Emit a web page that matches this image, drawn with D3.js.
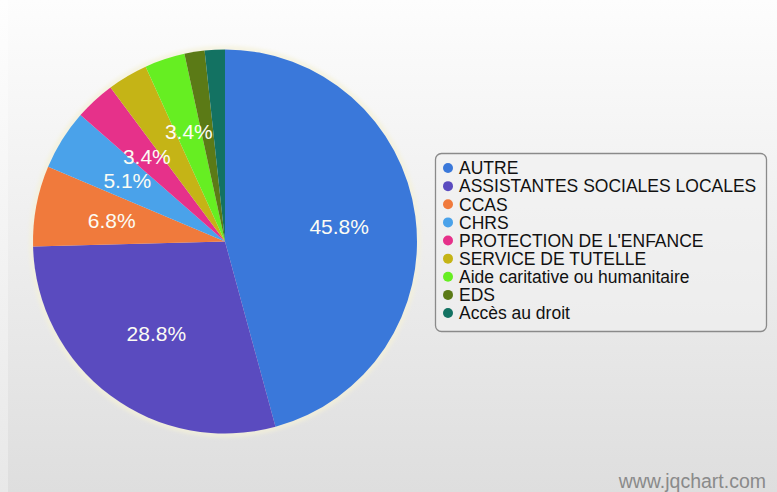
<!DOCTYPE html>
<html><head><meta charset="utf-8">
<script src="https://cdn.jsdelivr.net/npm/d3@7"></script>
<style>html,body{margin:0;padding:0;background:#fff;}svg{display:block;}</style>
</head><body>
<script>
const categories = ["AUTRE","ASSISTANTES SOCIALES LOCALES","CCAS","CHRS","PROTECTION DE L'ENFANCE","SERVICE DE TUTELLE","Aide caritative ou humanitaire","EDS","Accès au droit"];
const values = [27,17,4,3,2,2,2,1,1];
const colors = ["#3a78da","#5a4bbf","#f07a3c","#4aa2ea","#e6318a","#c5b416","#66ee22","#5b7a16","#137262"];
const watermark = "www.jqchart.com";

const W = 777, H = 492;
const svg = d3.select("body").append("svg").attr("width", W).attr("height", H);
const defs = svg.append("defs");
const g1 = defs.append("linearGradient").attr("id","bg").attr("x1",0).attr("y1",0).attr("x2",0).attr("y2",1);
g1.append("stop").attr("offset","0%").attr("stop-color","#fdfdfd");
g1.append("stop").attr("offset","100%").attr("stop-color","#dedede");
const g2 = defs.append("linearGradient").attr("id","bg2").attr("x1",0).attr("y1",0).attr("x2",0).attr("y2",1);
g2.append("stop").attr("offset","0%").attr("stop-color","#fefefe");
g2.append("stop").attr("offset","100%").attr("stop-color","#e8e8e8");
const blur = defs.append("filter").attr("id","halo").attr("x","-10%").attr("y","-10%").attr("width","120%").attr("height","120%");
blur.append("feGaussianBlur").attr("stdDeviation",2);

svg.append("rect").attr("width",W).attr("height",H).attr("fill","url(#bg2)");
svg.append("rect").attr("x",8).attr("width",W-8).attr("height",H).attr("fill","url(#bg)");

const cx = 225, cy = 241.5, R = 192;
const total = d3.sum(values);
const pie = d3.pie().sort(null).value(d => d)(values);
const arc = d3.arc().innerRadius(0).outerRadius(R);
const labelArc = d3.arc().innerRadius(R*0.6).outerRadius(R*0.6);

const gp = svg.append("g").attr("transform",`translate(${cx},${cy})`);
gp.append("circle").attr("r",R+1).attr("fill","none").attr("stroke","#f4f1d8").attr("stroke-width",4).attr("filter","url(#halo)");
gp.selectAll("path.slice").data(pie).join("path").attr("class","slice")
  .attr("d",arc).attr("fill",(d,i)=>colors[i]);

// labels with simple overlap avoidance
const fs = 21;
const placed = [];
pie.forEach((d,i)=>{
  const [x,y] = labelArc.centroid(d);
  const txt = (d.value/total*100).toFixed(1)+"%";
  const w = txt.length*fs*0.5, h = fs*0.8;
  const box = {x0:x-w/2,x1:x+w/2,y0:y-h/2,y1:y+h/2};
  const hit = placed.some(b => !(box.x1<b.x0||box.x0>b.x1||box.y1<b.y0||box.y0>b.y1));
  if (hit) return;
  placed.push(box);
  gp.append("text").attr("x",x).attr("y",y).attr("dy","0.35em")
    .attr("text-anchor","middle").attr("fill","#fcfcf4")
    .style("font-family","Liberation Sans, Arial, sans-serif").style("font-size",fs+"px")
    .text(txt);
});

// legend
const lg = svg.append("g");
lg.append("rect").attr("x",435.5).attr("y",153.5).attr("width",331).attr("height",178).attr("rx",6)
  .attr("fill","#f2f2f2").attr("fill-opacity",0.5).attr("stroke","#8a8a8a").attr("stroke-width",1.3);
const ly = d3.scalePoint().domain(categories).range([168,313]);
categories.forEach((c,i)=>{
  lg.append("circle").attr("cx",448).attr("cy",ly(c)).attr("r",5).attr("fill",colors[i]);
  lg.append("text").attr("x",459).attr("y",ly(c)).attr("dy","0.36em")
    .attr("fill","#111").style("font-family","Liberation Sans, Arial, sans-serif").style("font-size","17.5px")
    .text(c);
});

svg.append("text").attr("x",766).attr("y",488).attr("text-anchor","end")
  .attr("fill","#8a8a8a").style("font-family","Liberation Sans, Arial, sans-serif").style("font-size","19.5px")
  .text(watermark);
</script>
</body></html>
